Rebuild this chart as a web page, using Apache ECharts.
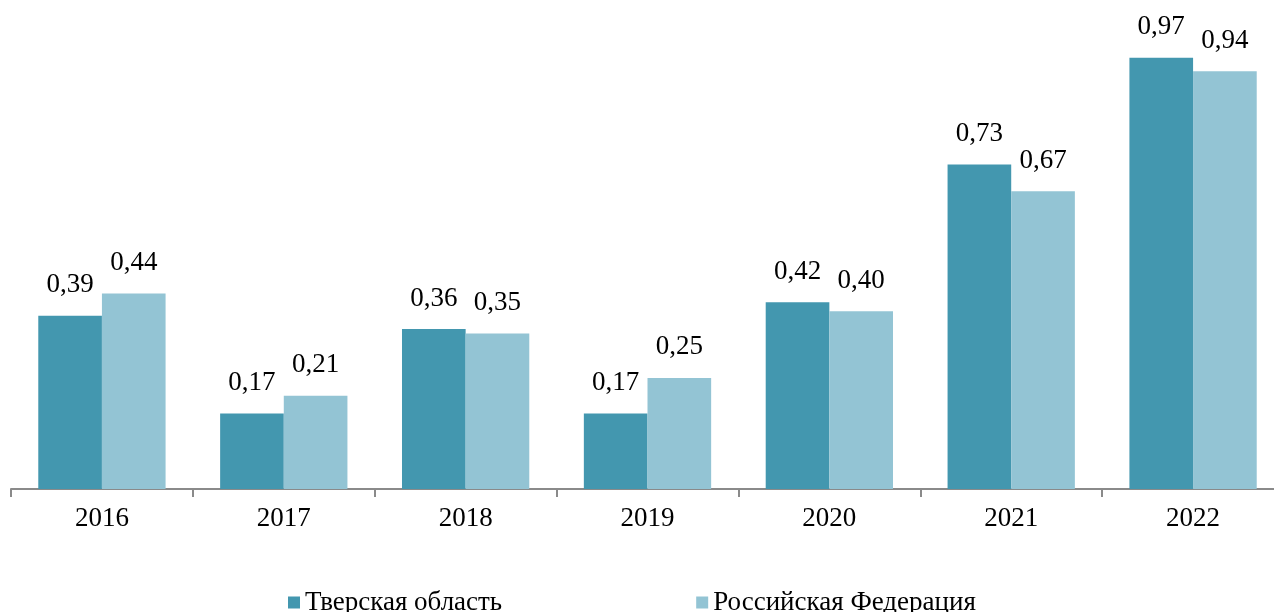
<!DOCTYPE html>
<html>
<head>
<meta charset="utf-8">
<script src="https://cdn.jsdelivr.net/npm/echarts@6/dist/echarts.min.js"></script>
<style>html,body{margin:0;padding:0;background:#fff;overflow:hidden;width:1274px;height:612px}#c{width:1284px;height:612px}</style>
</head>
<body>
<div id="c"></div>
<script>
const categories = ['2016','2017','2018','2019','2020','2021','2022'];
const seriesNames = ['Тверская область','Российская Федерация'];
const tverValues = [0.39,0.17,0.36,0.17,0.42,0.73,0.97];
const rfValues = [0.44,0.21,0.35,0.25,0.40,0.67,0.94];
const colors = ['#4397AF','#93C4D4'];

const font = '"Liberation Serif", "Times New Roman", serif';
const chart = echarts.init(document.getElementById('c'));
const label = {
  show: true, position: 'top', distance: 17,
  color: '#000', fontFamily: font, fontSize: 27,
  formatter: p => p.value.toFixed(2).replace('.', ',')
};
chart.setOption({
  animation: false,
  textStyle: {fontFamily: font},
  legend: {
    data: seriesNames, bottom: -9, left: 283, itemGap: 194,
    icon: 'rect', itemWidth: 12, itemHeight: 12, itemStyle: {borderWidth: 0},
    textStyle: {fontFamily: font, fontSize: 27, color: '#000'}
  },
  grid: {left: 11, right: 0, top: 44.5, bottom: 123, containLabel: false},
  xAxis: {
    type: 'category', data: categories,
    axisLine: {lineStyle: {color: '#8a8a8a', width: 2}},
    axisTick: {show: true, length: 8, lineStyle: {color: '#8a8a8a', width: 2}},
    axisLabel: {color: '#000', fontFamily: font, fontSize: 27, margin: 16}
  },
  yAxis: {type: 'value', min: 0, max: 1, show: false, splitLine: {show: false}},
  series: [
    {name: seriesNames[0], type: 'bar', data: tverValues, barGap: '0%', barCategoryGap: '30%', itemStyle: {color: colors[0]}, label: label},
    {name: seriesNames[1], type: 'bar', data: rfValues, barGap: '0%', barCategoryGap: '30%', itemStyle: {color: colors[1]}, label: label}
  ]
});
</script>
</body>
</html>
